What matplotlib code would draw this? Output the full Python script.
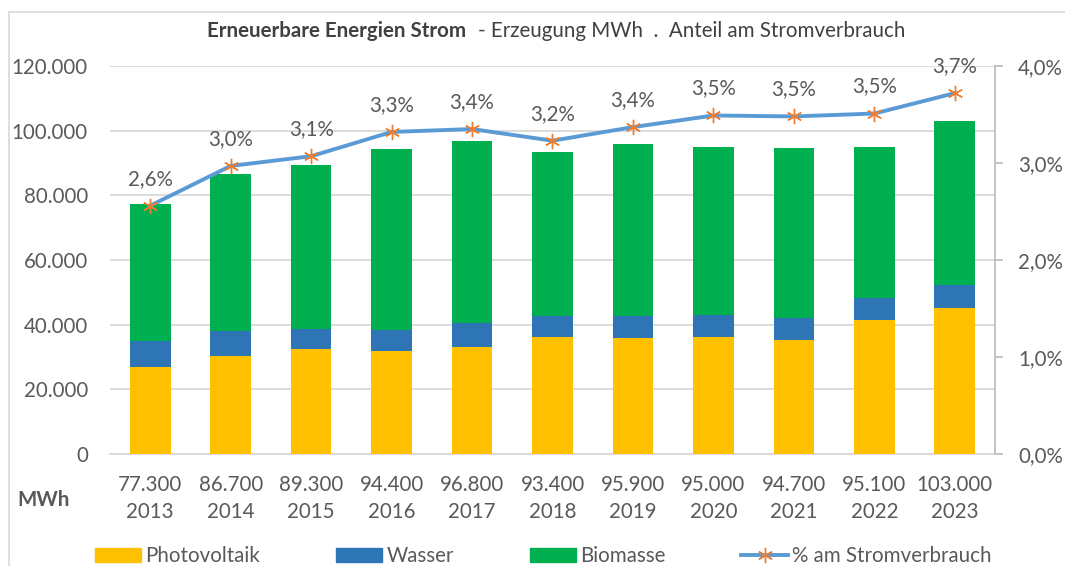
import matplotlib.pyplot as plt
from matplotlib.patches import Patch, Rectangle
from matplotlib.lines import Line2D

# Data (MWh)
years = ["2013", "2014", "2015", "2016", "2017", "2018", "2019", "2020", "2021", "2022", "2023"]
totals = ["77.300", "86.700", "89.300", "94.400", "96.800", "93.400", "95.900", "95.000", "94.700", "95.100", "103.000"]
photovoltaik = [26900, 30300, 32400, 31800, 33100, 36200, 35900, 36300, 35300, 41400, 45200]
wasser = [8200, 7600, 6400, 6400, 7500, 6400, 6800, 6800, 6800, 6800, 7200]
biomasse = [42200, 48800, 50500, 56200, 56200, 50800, 53200, 51900, 52600, 46900, 50600]
anteil = [2.56, 2.97, 3.07, 3.32, 3.35, 3.23, 3.37, 3.49, 3.48, 3.51, 3.72]

FONT = "Lato"
FS = 14.8
plt.rcParams['font.family'] = [FONT, 'DejaVu Sans']
GREY = "#595959"

fig = plt.figure(figsize=(10.65, 5.66), dpi=100)
ax = fig.add_axes([110 / 1065, 1 - 454 / 566, 885 / 1065, 388 / 566])

x = list(range(len(years)))
w = 0.505
ax.bar(x, photovoltaik, w, color="#FFC000", zorder=3)
ax.bar(x, wasser, w, bottom=photovoltaik, color="#2E75B6", zorder=3)
bottom2 = [p + q for p, q in zip(photovoltaik, wasser)]
ax.bar(x, biomasse, w, bottom=bottom2, color="#00B050", zorder=3)

ax.set_xlim(-0.5, len(years) - 0.5)
ax.set_ylim(0, 120000)
ax.set_yticks(range(0, 120001, 20000))
ax.set_yticklabels([f"{v:,}".replace(",", ".") for v in range(0, 120001, 20000)],
                   fontsize=FS, color=GREY)
ax.tick_params(axis="y", length=0, pad=16)
ax.set_xticks(x)
ax.set_xticklabels([f"{t}\n{y}" for t, y in zip(totals, years)], fontsize=FS,
                   color=GREY, linespacing=1.42)
ax.tick_params(axis="x", length=0, pad=15)
ax.grid(axis="y", color="#D9D9D9", linewidth=1.3, zorder=0)
for s in ["top", "left", "right"]:
    ax.spines[s].set_visible(False)
ax.spines["bottom"].set_color("#D9D9D9")
ax.spines["bottom"].set_linewidth(1.3)

ax2 = ax.twinx()
ax2.plot(x, anteil, color="#5B9BD5", linewidth=2.8, marker=(6, 2, 0),
         markersize=11, markeredgecolor="#ED7D31", markerfacecolor="#ED7D31",
         markeredgewidth=1.0, zorder=5)
for xi, v in zip(x, anteil):
    ax2.annotate(f"{v:.1f}%".replace(".", ","), (xi, v), xytext=(0, 19.5),
                 textcoords="offset points", ha="center", va="center",
                 fontsize=FS, color=GREY)
ax2.set_ylim(0, 4.0)
ax2.set_yticks([0, 1, 2, 3, 4])
ax2.set_yticklabels([f"{v:.1f}%".replace(".", ",") for v in [0, 1, 2, 3, 4]],
                    fontsize=FS, color=GREY)
ax2.tick_params(axis="y", length=6, color="#BFBFBF", width=1.3, pad=10.5)
for s in ["top", "left", "bottom"]:
    ax2.spines[s].set_visible(False)
ax2.spines["right"].set_color("#BFBFBF")
ax2.spines["right"].set_linewidth(1.3)

# title in two weights
fig.text(466 / 1065, 1 - 31 / 566, "Erneuerbare Energien Strom", fontsize=FS,
         fontweight="bold", color="#404040", ha="right", va="center")
fig.text(478 / 1065, 1 - 31 / 566, "- Erzeugung MWh  .  Anteil am Stromverbrauch",
         fontsize=FS, color="#404040", ha="left", va="center")
fig.text(17 / 1065, 1 - 500 / 566, "MWh", fontsize=FS, fontweight="bold",
         color=GREY, ha="left", va="center")

handles = [Patch(color="#FFC000"), Patch(color="#2E75B6"), Patch(color="#00B050"),
           Line2D([], [], color="#5B9BD5", linewidth=2.8, marker=(6, 2, 0),
                  markersize=11, markeredgecolor="#ED7D31", markeredgewidth=1.0)]
labels = ["Photovoltaik", "Wasser", "Biomasse", "% am Stromverbrauch"]
fig.legend(handles, labels, loc="center", bbox_to_anchor=(543 / 1065, 1 - 556 / 566),
           ncol=4, frameon=False, fontsize=FS, labelcolor=GREY,
           handlelength=2.25, handleheight=0.7, handletextpad=0.2, columnspacing=3.7)

fig.add_artist(Rectangle((9 / 1065, -0.1), 1.2, 1 - 12 / 566 + 0.1,
                         transform=fig.transFigure, fill=False,
                         edgecolor="#D9D9D9", linewidth=1.2))

fig.savefig("out.png", dpi=100)
